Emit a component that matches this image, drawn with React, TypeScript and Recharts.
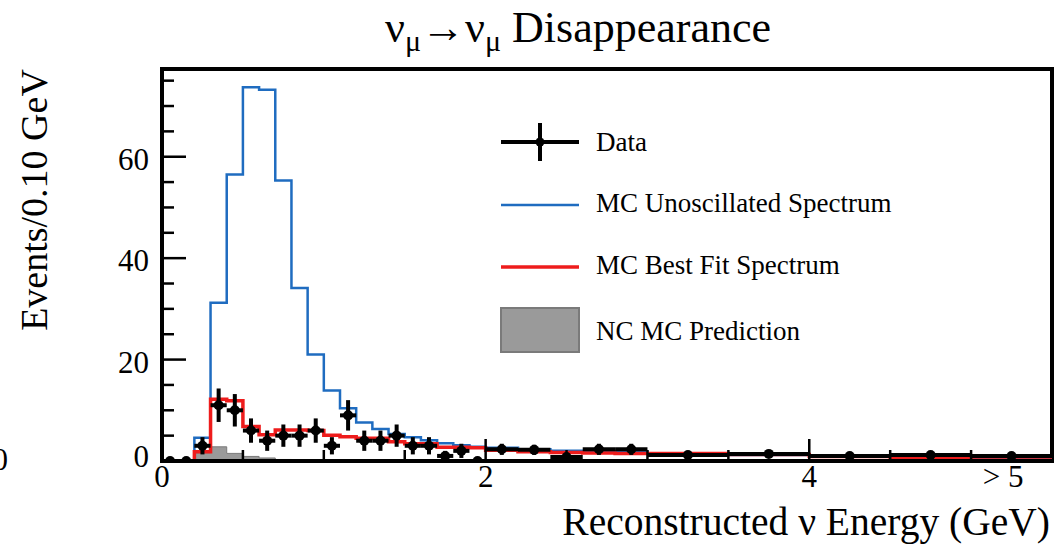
import React from 'react';
import { ComposedChart, Line, Area, Scatter, ErrorBar, XAxis, YAxis, ReferenceArea } from 'recharts';

// bin edges in GeV: 0.1 GeV bins up to 2, then 0.2, then 0.5
const binEdges = [
  0, 0.1, 0.2, 0.3, 0.4, 0.5, 0.6, 0.7, 0.8, 0.9, 1.0, 1.1, 1.2, 1.3, 1.4, 1.5, 1.6, 1.7, 1.8, 1.9,
  2.0, 2.2, 2.4, 2.6, 2.8, 3.0, 3.5, 4.0, 4.5, 5.0, 5.5,
];

// events / 0.10 GeV, one value per bin
const dataCounts = [
  0, 0, 3, 11, 10, 6, 4, 5, 5, 6, 3, 9, 4, 4, 5, 3, 3, 1, 2, 0,
  2.3, 2.2, 0.8, 2.3, 2.3, 1.2, 1.4, 1.0, 1.2, 1.0,
];
const dataErrors = [
  0, 0, 1.7, 3.3, 3.2, 2.4, 2.0, 2.2, 2.2, 2.4, 1.7, 3.0, 2.0, 2.0, 2.2, 1.7, 1.7, 1.0, 1.4, 0,
  1.1, 1.0, 0.6, 1.1, 1.1, 0.5, 0.5, 0.45, 0.5, 0.45,
];
const unoscillated = [
  0, 0, 4.6, 31.2, 56.5, 73.7, 73.2, 55.3, 34.1, 21.0, 13.9, 10.4, 7.6, 6.3, 5.3, 4.7, 4.1, 3.5, 3.1, 2.8,
  2.6, 2.3, 2.0, 1.9, 1.8, 1.5, 1.2, 0.9, 0.8, 0.7,
];
const bestFit = [
  0, 0, 1.8, 12.2, 11.9, 6.8, 5.2, 6.1, 6.1, 6.0, 5.1, 4.8, 4.5, 4.5, 3.8, 3.4, 3.4, 2.7, 2.7, 2.6,
  2.1, 1.8, 1.7, 1.6, 1.5, 1.5, 1.3, 0.9, 0.6, 0.8,
];
const ncPrediction = [
  0, 0, 1.6, 2.8, 1.5, 0.9, 0.6, 0.3, 0.25, 0.2, 0.15, 0.1, 0.1, 0.1, 0.1, 0.05, 0.05, 0.05, 0.05, 0.05,
  0, 0, 0, 0, 0, 0, 0, 0, 0, 0,
];

const xTicks = [0, 0.5, 1, 1.5, 2, 2.5, 3, 3.5, 4, 4.5, 5];
const xMajor = [0, 2, 4];
const xTickLabels: Record<number, string> = { 0: '0', 2: '2', 4: '4', 5: '> 5' };
const yTicks = [0, 5, 10, 15, 20, 25, 30, 35, 40, 45, 50, 55, 60, 65, 70, 75];
const yTickLabels = [0, 20, 40, 60];

const serif = '"Liberation Serif", "Times New Roman", "DejaVu Serif", serif';
const BLUE = '#1f6cc0';
const RED = '#ee1c1c';

// step histogram points: value held from each lower edge, last edge repeats last bin
const toSteps = (vals: number[]) =>
  binEdges.map((x, i) => ({ x, y: vals[Math.min(i, vals.length - 1)] }));

const dataPoints = binEdges.slice(0, -1).map((lo, i) => {
  const hi = binEdges[i + 1];
  return { x: (lo + hi) / 2, y: dataCounts[i], ex: (hi - lo) / 2, ey: dataErrors[i] };
});

const XTick = (props: any) => {
  const { x, y, payload } = props;
  const v = payload.value;
  const label = xTickLabels[v];
  const len = xMajor.includes(v) ? 22 : 11;
  return (
    <g>
      <line x1={x} x2={x} y1={y} y2={y - len} stroke="#000" strokeWidth={2.5} />
      {label && (
        <text x={v === 5 ? x + 32 : x} y={y + 26} textAnchor="middle" fontFamily={serif} fontSize={31} fill="#000">
          {label}
        </text>
      )}
    </g>
  );
};

const YTick = (props: any) => {
  const { x, y, payload } = props;
  const v = payload.value;
  const major = yTickLabels.includes(v);
  return (
    <g>
      <line x1={x} x2={x + (major ? 24 : 12)} y1={y} y2={y} stroke="#000" strokeWidth={2.5} />
      {major && (
        <text x={x - 13} y={y + (v === 0 ? 6 : 13)} textAnchor="end" fontFamily={serif} fontSize={31} fill="#000">
          {v}
        </text>
      )}
    </g>
  );
};

const Dot = (props: any) => <circle cx={props.cx} cy={props.cy} r={5} fill="#000" />;

export default function App() {
  return (
    <div style={{ position: 'relative', width: 1058, height: 550, background: '#fff' }}>
      <style>{'body{margin:0}'}</style>
      <ComposedChart width={1058} height={550} margin={{ top: 69, right: 6, bottom: 59, left: 102 }}>
        <XAxis
          type="number"
          dataKey="x"
          domain={[0, 5.5]}
          allowDataOverflow
          ticks={xTicks}
          interval={0}
          tick={<XTick />}
          tickLine={false}
          tickSize={0}
          tickMargin={0}
          axisLine={{ stroke: '#000', strokeWidth: 4 }}
          height={30}
        />
        <YAxis
          type="number"
          dataKey="y"
          domain={[0, 77.3]}
          allowDataOverflow
          ticks={yTicks}
          interval={0}
          tick={<YTick />}
          tickLine={false}
          tickSize={0}
          tickMargin={0}
          axisLine={{ stroke: '#000', strokeWidth: 4 }}
          width={60}
        />
        <Area
          data={toSteps(ncPrediction)}
          dataKey="y"
          type="stepAfter"
          fill="#9a9a9a"
          fillOpacity={1}
          stroke="#7a7a7a"
          strokeWidth={1}
          isAnimationActive={false}
          dot={false}
          activeDot={false}
        />
        <Line
          data={toSteps(unoscillated)}
          dataKey="y"
          type="stepAfter"
          stroke={BLUE}
          strokeWidth={2.5}
          dot={false}
          activeDot={false}
          isAnimationActive={false}
        />
        <Line
          data={toSteps(bestFit)}
          dataKey="y"
          type="stepAfter"
          stroke={RED}
          strokeWidth={3.5}
          dot={false}
          activeDot={false}
          isAnimationActive={false}
        />
        <Scatter data={dataPoints} dataKey="y" fill="#000" shape={<Dot />} isAnimationActive={false}>
          <ErrorBar dataKey="ey" direction="y" width={0} stroke="#000" strokeWidth={4} isAnimationActive={false} />
          <ErrorBar dataKey="ex" direction="x" width={0} stroke="#000" strokeWidth={4} isAnimationActive={false} />
        </Scatter>
        <ReferenceArea x1={0} x2={5.5} y1={0} y2={77.3} fill="none" stroke="#000" strokeWidth={4} />
      </ComposedChart>

      <svg width={1058} height={550} style={{ position: 'absolute', left: 0, top: 0, pointerEvents: 'none' }}>
        <g fontFamily={serif} fill="#000">
          <text x={578} y={42} textAnchor="middle" fontSize={44}>
            ν<tspan fontSize={30} dy={9}>μ</tspan>
            <tspan dy={-9}>→ν</tspan>
            <tspan fontSize={30} dy={9}>μ</tspan>
            <tspan dy={-9}> Disappearance</tspan>
          </text>
          <text transform="translate(47,200) rotate(-90)" textAnchor="middle" fontSize={38}>
            Events/0.10 GeV
          </text>
          <text x={1050} y={535} textAnchor="end" fontSize={39.5}>
            Reconstructed ν Energy (GeV)
          </text>
          <text x={8} y={470} textAnchor="end" fontSize={31}>0</text>

          {/* legend */}
          <line x1={501} x2={579} y1={142} y2={142} stroke="#000" strokeWidth={4} />
          <line x1={540} x2={540} y1={123} y2={161} stroke="#000" strokeWidth={4} />
          <circle cx={540} cy={142} r={4.5} fill="#000" />
          <text x={596} y={151} fontSize={27}>Data</text>

          <line x1={501} x2={579} y1={205} y2={205} stroke={BLUE} strokeWidth={2.5} />
          <text x={596} y={212} fontSize={27}>MC Unoscillated Spectrum</text>

          <line x1={501} x2={579} y1={267} y2={267} stroke={RED} strokeWidth={3.5} />
          <text x={596} y={274} fontSize={27}>MC Best Fit Spectrum</text>

          <rect x={501} y={308} width={78} height={44} fill="#9a9a9a" stroke="#7a7a7a" strokeWidth={2} />
          <text x={596} y={340} fontSize={27}>NC MC Prediction</text>
        </g>
      </svg>
    </div>
  );
}
